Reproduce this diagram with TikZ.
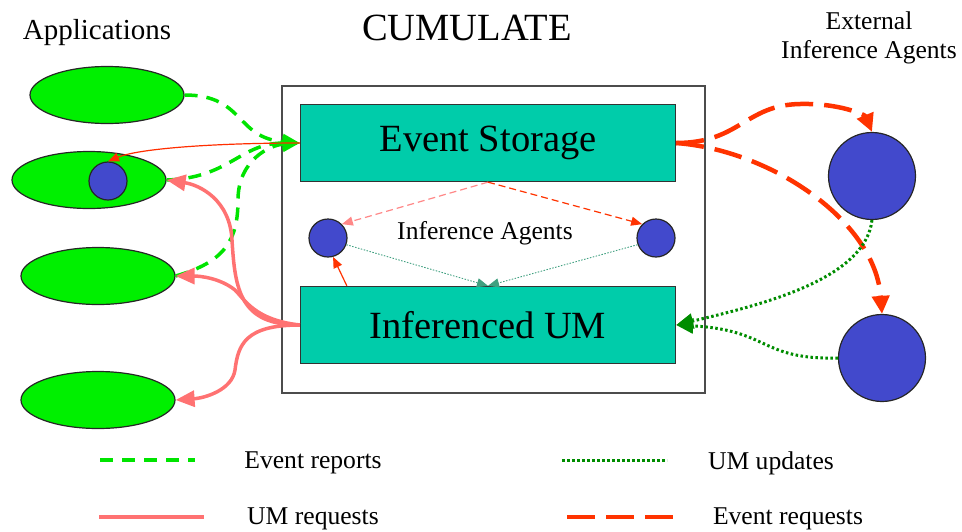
\documentclass[tikz,border=0pt]{standalone}
\usepackage{fontspec}
\setmainfont{Liberation Serif}
\usetikzlibrary{arrows.meta,shapes.geometric}
\definecolor{appg}{HTML}{00F000}
\definecolor{boxt}{HTML}{00CCAA}
\definecolor{agb}{HTML}{4249CC}
\definecolor{repg}{HTML}{00E400}
\definecolor{updg}{HTML}{008C00}
\definecolor{reqs}{HTML}{FF7272}
\definecolor{evr}{HTML}{FF3300}
\definecolor{ltr}{HTML}{FF8888}
\definecolor{dotg}{HTML}{40A080}
\newcommand{\bigf}{\fontsize{38.5}{44}\selectfont}
\newcommand{\smf}{\fontsize{25.6}{29}\selectfont}
\tikzset{
  app/.style={ellipse,draw=black!85,line width=1.2pt,fill=appg,minimum width=154pt,minimum height=57pt,inner sep=0pt},
  agent/.style={circle,draw=black!85,line width=1.2pt,fill=agb,inner sep=0pt,minimum size=38pt},
  extag/.style={agent,minimum size=87pt},
  comp/.style={draw=black!80,line width=1.3pt,fill=boxt,minimum width=375pt,minimum height=77pt,font=\bigf,inner sep=0pt},
  lbl/.style={font=\smf,inner sep=0pt},
  rep/.style={-{Triangle[length=17pt,width=15pt]},line width=3.5pt,draw=repg,dash pattern=on 13pt off 9pt},
  umreq/.style={-{Triangle[length=19pt,width=16pt]},line width=3.5pt,draw=reqs},
  evreq/.style={-{Triangle[length=18pt,width=17pt]},line width=4.5pt,draw=evr,dash pattern=on 28pt off 11pt},
  upd/.style={-{Triangle[length=17pt,width=15pt]},line width=3pt,draw=updg,dash pattern=on 2.5pt off 2.5pt},
  thin/.style={-{Triangle[length=11pt,width=9pt]},line width=1.2pt},
}
\begin{document}
\begin{tikzpicture}[x=1pt,y=-1pt]
\useasboundingbox (0,0) rectangle (962,531);
\node[lbl,font=\bigf] (title) at (467,28) {CUMULATE};
\node[lbl,font=\fontsize{29}{33}\selectfont] (apps) at (97,33) {Applications};
\node[lbl,align=center] (extl) at (869,38) {External\\Inference Agents};
\node[draw=black!70,line width=1.5pt,minimum width=423pt,minimum height=307pt] (cum) at (493.5,239.5) {};
\node[comp] (es) at (488,143) {Event Storage};
\node[comp] (ium) at (488,325) {Inferenced UM};
\node[lbl] (ial) at (485,233) {Inference Agents};
\node[agent] (ia1) at (328,238) {};
\node[agent] (ia2) at (656,238) {};
\node[app] (a1) at (107,95) {};
\node[app] (a2) at (89,180) {};
\node[app] (a3) at (98,276) {};
\node[app] (a4) at (98,400) {};
\node[agent] (ag) at (108,181) {};
\node[extag] (ea1) at (872,176) {};
\node[extag] (ea2) at (882,358) {};
\draw[rep] (a1.east) .. controls (245,95) and (235,138) .. (es.west);
\draw[rep] (a2.east) .. controls (230,178) and (240,143) .. (es.west);
\draw[rep] (a3.east) .. controls (225,262) and (238,240) .. (238,200) .. controls (238,160) and (270,145) .. (es.west);
\draw[thin,draw=evr!90!red] (es.west) .. controls (220,143) and (140,148) .. (ag.north);
\draw[umreq] (ium.west) .. controls (240,325) and (235,290) .. (232,240) .. controls (230,200) and (200,185) .. (a2.east);
\draw[umreq] (ium.west) .. controls (255,320) and (245,300) .. (235,290) .. controls (220,278) and (200,276) .. (a3.east);
\draw[umreq] (ium.west) .. controls (245,325) and (238,345) .. (235,370) .. controls (232,390) and (205,398) .. (a4.east);
\draw[thin,draw=ltr,dash pattern=on 7pt off 4pt] (es.south) -- (ia1.north east);
\draw[thin,draw=evr,dash pattern=on 7pt off 4pt] (es.south) -- (ia2.north west);
\draw[thin,draw=evr] ([xshift=47pt]ium.north west) -- (ia1.-75);
\draw[thin,draw=dotg,line width=0.9pt,dash pattern=on 1.5pt off 1.5pt] (ia1.-20) -- (ium.north);
\draw[thin,draw=dotg,line width=0.9pt,dash pattern=on 1.5pt off 1.5pt] (ia2.200) -- (ium.north);
\draw[evreq] (es.east) .. controls (740,143) and (745,105) .. (800,104) .. controls (840,103) and (865,115) .. (ea1.north);
\draw[evreq] (es.east) .. controls (770,150) and (875,220) .. (ea2.north);
\draw[upd] (ea1.south) .. controls (865,280) and (760,305) .. (ium.east);
\draw[upd] (ea2.west) .. controls (760,360) and (770,330) .. (ium.east);
\coordinate (l1a) at (100,460); \coordinate (l1b) at (195,460);
\coordinate (l2a) at (562,460); \coordinate (l2b) at (667,460);
\coordinate (l3a) at (99,517); \coordinate (l3b) at (204,517);
\coordinate (l4a) at (567,517); \coordinate (l4b) at (673,517);
\draw[rep,-] (l1a) -- (l1b);
\draw[upd,-] (l2a) -- (l2b);
\draw[umreq,-] (l3a) -- (l3b);
\draw[evreq,-] (l4a) -- (l4b);
\node[lbl] (t1) at (313,463) {Event reports};
\node[lbl] (t2) at (771,463) {UM updates};
\node[lbl] (t3) at (313,519) {UM requests};
\node[lbl] (t4) at (788,519) {Event requests};
\end{tikzpicture}
\end{document}
